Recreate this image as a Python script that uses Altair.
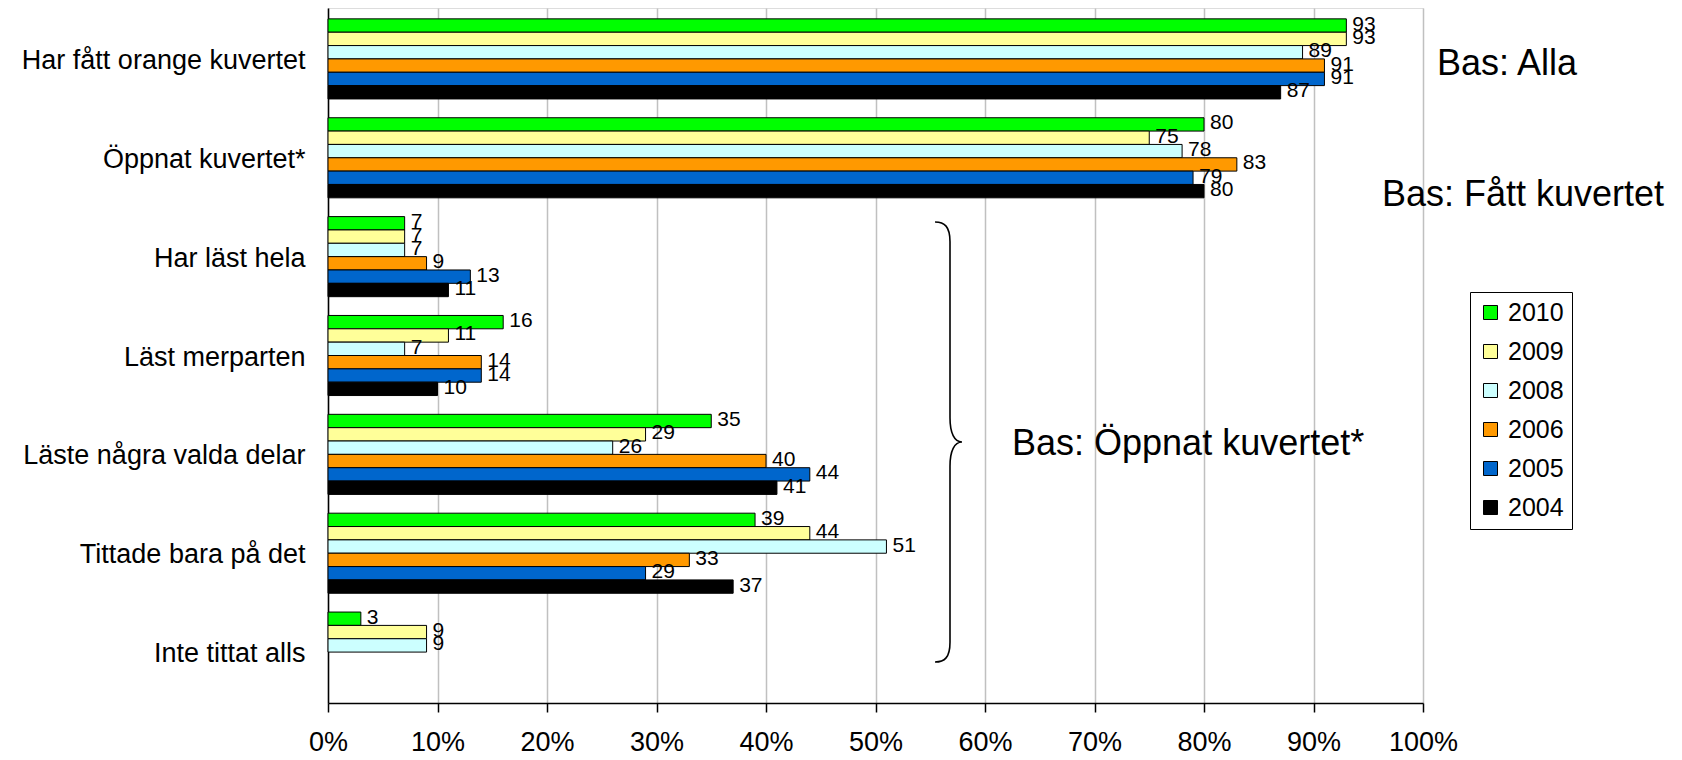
import altair as alt
import pandas as pd

categories = [
    "Har fått orange kuvertet",
    "Öppnat kuvertet*",
    "Har läst hela",
    "Läst merparten",
    "Läste några valda delar",
    "Tittade bara på det",
    "Inte tittat alls",
]
years = ["2010", "2009", "2008", "2006", "2005", "2004"]
colors = ["#00FF00", "#FFFF99", "#CCFFFF", "#FF9900", "#0066CC", "#000000"]

v2010 = [93, 80, 7, 16, 35, 39, 3]
v2009 = [93, 75, 7, 11, 29, 44, 9]
v2008 = [89, 78, 7, 7, 26, 51, 9]
v2006 = [91, 83, 9, 14, 40, 33, None]
v2005 = [91, 79, 13, 14, 44, 29, None]
v2004 = [87, 80, 11, 10, 41, 37, None]

x_ticks = [0, 10, 20, 30, 40, 50, 60, 70, 80, 90, 100]
note_alla = "Bas: Alla"
note_fatt = "Bas: Fått kuvertet"
note_oppnat = "Bas: Öppnat kuvertet*"

series = [v2010, v2009, v2008, v2006, v2005, v2004]
rows = []
for yr, vals in zip(years, series):
    for cat, v in zip(categories, vals):
        if v is not None:
            rows.append({"category": cat, "year": yr, "value": v})
df = pd.DataFrame(rows)

FONT = "Liberation Sans"

base = alt.Chart(df).encode(
    y=alt.Y(
        "category:N",
        sort=categories,
        scale=alt.Scale(domain=categories, paddingInner=0.19, paddingOuter=0.11),
        axis=alt.Axis(
            title=None, ticks=False, labelFontSize=27, labelPadding=23,
            labelColor="black", domainColor="black", domainWidth=1.5,
            grid=False, labelFont=FONT, labelOffset=2, labelLimit=0,
        ),
    ),
    yOffset=alt.YOffset("year:N", sort=years, scale=alt.Scale(domain=years)),
)

bars = base.mark_bar(stroke="black", strokeWidth=1).encode(
    x=alt.X(
        "value:Q",
        scale=alt.Scale(domain=[0, 100]),
        axis=alt.Axis(
            title=None, values=x_ticks, labelExpr="datum.value + '%'",
            labelFontSize=27, labelFont=FONT, labelColor="black",
            labelPadding=17, tickSize=9, tickColor="black", tickWidth=1.5,
            domainColor="black", domainWidth=1.5, labelFlush=False,
            labelOverlap=False,
            grid=True, gridColor="#c0c0c0", gridWidth=1.5,
        ),
    ),
    color=alt.Color(
        "year:N",
        sort=years,
        scale=alt.Scale(domain=years, range=colors),
        legend=alt.Legend(
            title=None, orient="none", legendX=1142, legendY=284,
            strokeColor="black", padding=8, symbolType="square",
            symbolSize=196, symbolStrokeColor="black", symbolStrokeWidth=1,
            symbolOpacity=1, labelFontSize=25, labelFont=FONT,
            labelColor="black", rowPadding=13, labelOffset=5,
        ),
    ),
)

labels = base.mark_text(
    align="left", baseline="middle", dx=6, dy=-1, fontSize=21, font=FONT, color="black"
).encode(x="value:Q", text="value:Q")

BRACE = (
    "M -0.068 -1 C -0.025 -1 0 -0.98 0 -0.91 "
    "L 0 -0.11 C 0 -0.04 0.02 0 0.0545 0 "
    "C 0.02 0 0 0.04 0 0.11 "
    "L 0 0.91 C 0 0.98 -0.025 1 -0.068 1"
)
anchor = pd.DataFrame({"a": [0]})
brace = alt.Chart(anchor).mark_point(
    shape=BRACE, size=193600, filled=False, stroke="black", strokeWidth=1.6, opacity=1
).encode(x=alt.value(622), y=alt.value(434))

def note(txt, x, y):
    return alt.Chart(anchor).mark_text(
        text=txt, align="left", baseline="middle", fontSize=36, font=FONT, color="black"
    ).encode(x=alt.value(x), y=alt.value(y))

t1 = note(note_alla, 1109, 56)
t2 = note(note_fatt, 1054, 187)
t3 = note(note_oppnat, 684, 436)

chart = alt.layer(bars, labels, brace, t1, t2, t3).properties(
    width=1095,
    height=695,
    autosize=alt.AutoSizeParams(type="none"),
    padding={"left": 320, "top": 0, "right": 250, "bottom": 55},
).configure_view(stroke=None).configure(font=FONT)

chart.save("out.html", embed_options={"renderer": "svg", "actions": False})
